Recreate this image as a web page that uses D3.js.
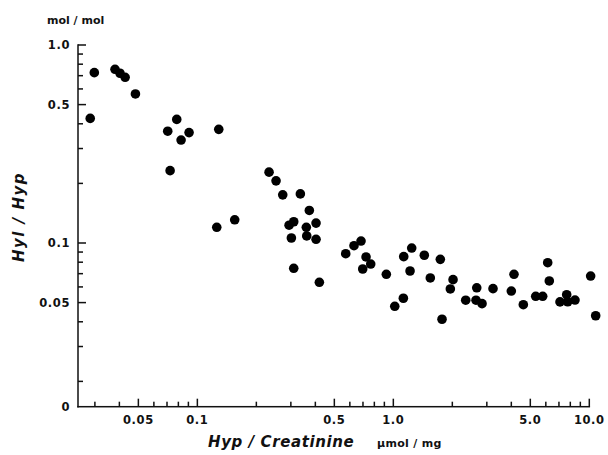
<!DOCTYPE html>
<html>
<head>
<meta charset="utf-8">
<script src="https://cdn.jsdelivr.net/npm/d3@7"></script>
<style>
  html, body { margin: 0; padding: 0; background: #fff; }
  svg { display: block; }
  text { font-family: "DejaVu Sans", "Liberation Sans", sans-serif; font-weight: bold; fill: #111; }
</style>
</head>
<body>
<svg id="chart" width="608" height="455"></svg>
<script>
// ---- data ----
const hypCreatinine = [
  0.0284, 0.0298, 0.0380, 0.0403, 0.0428, 0.0483, 0.0706, 0.0785, 0.0826, 0.0907,
  0.0726, 0.1286, 0.1256, 0.1551, 0.2322, 0.2521, 0.2727, 0.3354, 0.3727, 0.2938,
  0.3103, 0.4033, 0.3598, 0.3018, 0.3615, 0.4033, 0.3103, 0.4193, 0.5716, 0.630,
  0.6842, 0.7257, 0.7668, 0.698, 0.921, 1.017, 1.125, 1.13, 1.241, 1.217,
  1.439, 1.544, 1.737, 2.017, 1.954, 1.772, 2.341, 2.665, 2.642, 2.836,
  3.226, 4.00, 4.128, 4.606, 5.328, 5.783, 6.134, 6.25, 7.088, 7.667,
  7.758, 8.453, 10.16, 10.78
];
const hylHyp = [
  0.426, 0.725, 0.754, 0.720, 0.687, 0.566, 0.367, 0.421, 0.331, 0.361,
  0.232, 0.375, 0.120, 0.131, 0.228, 0.206, 0.175, 0.177, 0.146, 0.123,
  0.128, 0.126, 0.120, 0.106, 0.1085, 0.1044, 0.0745, 0.0633, 0.0883, 0.0969,
  0.1023, 0.0850, 0.0783, 0.0739, 0.0695, 0.0479, 0.0526, 0.0853, 0.0943, 0.0722,
  0.0867, 0.0666, 0.0827, 0.0653, 0.0586, 0.0412, 0.0514, 0.0594, 0.0514, 0.0494,
  0.0588, 0.0572, 0.0695, 0.0488, 0.0538, 0.0538, 0.0795, 0.0643, 0.0504, 0.0548,
  0.0505, 0.0515, 0.0681, 0.0429
];

const xDomain = [0.0246, 10];
const yDomain = [0.0149, 1];

const xMajorTicks = [0.05, 0.1, 0.5, 1, 5, 10];
const xMajorLabels = ["0.05", "0.1", "0.5", "1.0", "5.0", "10.0"];
const xMinorTicks = [0.03, 0.04, 0.06, 0.07, 0.08, 0.09, 0.2, 0.3, 0.4, 0.6, 0.7, 0.8, 0.9,
                     2, 3, 4, 6, 7, 8, 9];
const yMajorTicks = [0.0149, 0.05, 0.1, 0.5, 1];
const yMajorLabels = ["0", "0.05", "0.1", "0.5", "1.0"];
const yMinorTicks = [0.02, 0.03, 0.04, 0.06, 0.07, 0.08, 0.09, 0.2, 0.3, 0.4, 0.6, 0.7, 0.8, 0.9];

const yUnit = "mol / mol";
const yTitle = "Hyl / Hyp";
const xTitle = "Hyp / Creatinine";
const xUnit = "\u03bcmol / mg";

// ---- drawing ----
const svg = d3.select("#chart");
const mLeft = 78, mRight = 589.3, mTop = 45, mBottom = 406.7;
const ink = "#111";
const tickW = 1.5;

const x = d3.scaleLog().domain(xDomain).range([mLeft, mRight]);
const y = d3.scaleLog().domain(yDomain).range([mBottom, mTop]);

// axis lines
svg.append("rect").attr("x", mLeft - 0.75).attr("y", mTop - 0.75)
  .attr("width", 1.5).attr("height", mBottom - mTop + 1.5).attr("fill", ink);
svg.append("rect").attr("x", mLeft - 0.75).attr("y", mBottom - 0.75)
  .attr("width", x(xDomain[1]) - mLeft + 1.5).attr("height", 1.5).attr("fill", ink);

// inward ticks drawn as thin filled rects
const tg = svg.append("g").attr("fill", ink);
tg.selectAll("rect.xmaj").data(xMajorTicks).join("rect").attr("class", "xmaj")
  .attr("x", d => x(d) - tickW / 2).attr("y", mBottom - 8).attr("width", tickW).attr("height", 8);
tg.selectAll("rect.xmin").data(xMinorTicks).join("rect").attr("class", "xmin")
  .attr("x", d => x(d) - tickW / 2).attr("y", mBottom - 5).attr("width", tickW).attr("height", 5);
tg.selectAll("rect.ymaj").data(yMajorTicks.slice(1)).join("rect").attr("class", "ymaj")
  .attr("x", mLeft).attr("y", d => y(d) - tickW / 2).attr("width", 8).attr("height", tickW);
tg.selectAll("rect.ymin").data(yMinorTicks).join("rect").attr("class", "ymin")
  .attr("x", mLeft).attr("y", d => y(d) - tickW / 2).attr("width", 5).attr("height", tickW);

// tick labels
svg.append("g").selectAll("text").data(xMajorTicks).join("text")
  .attr("x", d => x(d)).attr("y", mBottom + 17).attr("text-anchor", "middle")
  .attr("font-size", 11.5).attr("letter-spacing", 0.6)
  .text((d, i) => xMajorLabels[i]);
svg.append("g").selectAll("text").data(yMajorTicks).join("text")
  .attr("x", mLeft - 8).attr("y", d => y(d)).attr("dy", "0.38em").attr("text-anchor", "end")
  .attr("font-size", 11.5).attr("letter-spacing", 0.6)
  .text((d, i) => yMajorLabels[i]);

// points
const pts = hypCreatinine.map((v, i) => ({ x: v, y: hylHyp[i] }));
svg.append("g").selectAll("circle").data(pts).join("circle")
  .attr("cx", d => x(d.x)).attr("cy", d => y(d.y)).attr("r", 4.8)
  .attr("fill", "#000");

// texts
svg.append("text").attr("x", 47).attr("y", 24).attr("font-size", 11)
  .text(yUnit);
svg.append("text")
  .attr("transform", "translate(24,217) rotate(-90)")
  .attr("text-anchor", "middle").attr("font-size", 15).attr("font-style", "italic")
  .attr("letter-spacing", 1.5).text(yTitle);
svg.append("text").attr("x", 208).attr("y", 447).attr("font-size", 15)
  .attr("font-style", "italic").attr("letter-spacing", 0.6).text(xTitle);
svg.append("text").attr("x", 377).attr("y", 447).attr("font-size", 11)
  .attr("letter-spacing", 0.3).text(xUnit);
</script>
</body>
</html>
